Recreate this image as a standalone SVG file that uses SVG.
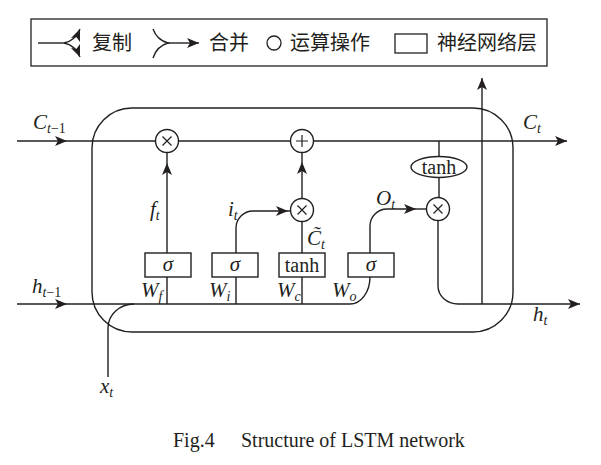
<svg xmlns="http://www.w3.org/2000/svg" width="601" height="465" viewBox="0 0 601 465">
<style>
.ln{fill:none;stroke:#231f20;stroke-width:1.4}
.nd{fill:#fff;stroke:#231f20;stroke-width:1.4}
.sym{stroke:#231f20;stroke-width:1.2;fill:none}
.m{font-family:"Liberation Serif",serif;font-style:italic;font-size:21px;fill:#231f20}
.sub{font-size:14px}
.up{font-family:"Liberation Serif",serif;font-size:20px;fill:#231f20}
.cjk{font-family:"Liberation Sans","Noto Sans CJK SC",sans-serif;font-size:20px;fill:#231f20}
</style>
<defs>
<marker id="ar" viewBox="0 0 12 10" refX="12" refY="5" markerWidth="12" markerHeight="10" markerUnits="userSpaceOnUse" orient="auto">
<path d="M0,0 L12,5 L0,10 L3,5 z" fill="#231f20"/>
</marker>
</defs>
<rect width="601" height="465" fill="#fff"/>

<g id="legend">
<rect x="31" y="19" width="516" height="47" fill="none" stroke="#231f20" stroke-width="1.3"/>
<path class="ln" d="M38,43 L64,43"/>
<path class="ln" d="M64,43 Q75,41 80,29" marker-end="url(#ar)"/>
<path class="ln" d="M64,43 Q75,45 80,57" marker-end="url(#ar)"/>
<text class="cjk" x="92" y="50">复制</text>
<path class="ln" d="M153,29 Q157,40 168,43 Q157,46 153,58"/>
<path class="ln" d="M168,43 L199,43" marker-end="url(#ar)"/>
<text class="cjk" x="209" y="50">合并</text>
<circle cx="274" cy="43" r="7" fill="none" stroke="#231f20" stroke-width="1.3"/>
<text class="cjk" x="290" y="50">运算操作</text>
<rect x="395" y="34" width="32" height="19" fill="none" stroke="#231f20" stroke-width="1.3"/>
<text class="cjk" x="437" y="50">神经网络层</text>
</g>

<g id="cell">
<rect x="92" y="108" width="421" height="224" rx="40" ry="40" class="ln"/>
</g>

<g id="connectors">
<path class="ln" d="M17,141 L67,141" marker-end="url(#ar)"/>
<path class="ln" d="M67,141 L567,141" marker-end="url(#ar)"/>
<path class="ln" d="M17,304 L67,304" marker-end="url(#ar)"/>
<path class="ln" d="M67,304 L350,304 A20,27 0 0 0 370,277"/>
<path class="ln" d="M108,377 L108,328 A26,24 0 0 1 134,304"/>
<path class="ln" d="M167,304 L167,277 M236,304 L236,277 M302,304 L302,277"/>
<path class="ln" d="M167,253 L167,163" marker-end="url(#ar)"/>
<path class="ln" d="M167,163 L167,152"/>
<path class="ln" d="M236,253 L236,228 A17,17 0 0 1 253,211 L288,211" marker-end="url(#ar)"/>
<path class="ln" d="M288,211 L292,211"/>
<path class="ln" d="M302,253 L302,221"/>
<path class="ln" d="M302,199 L302,162" marker-end="url(#ar)"/>
<path class="ln" d="M302,162 L302,152"/>
<path class="ln" d="M370,253 L370,226 A17,17 0 0 1 387,209 L416,209" marker-end="url(#ar)"/>
<path class="ln" d="M416,209 L427,209"/>
<path class="ln" d="M439,141 L439,197"/>
<path class="ln" d="M438,221 L438,286 A20,18 0 0 0 458,304 L580,304" marker-end="url(#ar)"/>
<path class="ln" d="M482,304 L482,78" marker-end="url(#ar)"/>
</g>

<g id="mul-f">
<circle class="nd" cx="167" cy="141" r="11.5"/>
<path class="sym" d="M162.5,136.5 L171.5,145.5 M171.5,136.5 L162.5,145.5"/>
</g>
<g id="add-c">
<circle class="nd" cx="302" cy="141" r="11.5"/>
<path class="sym" d="M296,141 L308,141 M302,135 L302,147"/>
</g>
<g id="mul-i">
<circle class="nd" cx="302" cy="210" r="11.5"/>
<path class="sym" d="M297.5,205.5 L306.5,214.5 M306.5,205.5 L297.5,214.5"/>
</g>
<g id="mul-o">
<circle class="nd" cx="438" cy="209" r="11.5"/>
<path class="sym" d="M433.5,204.5 L442.5,213.5 M442.5,204.5 L433.5,213.5"/>
</g>
<g id="tanh-c">
<ellipse class="nd" cx="439" cy="167" rx="28" ry="10.5"/>
<text class="up" x="439" y="173.5" text-anchor="middle">tanh</text>
</g>
<g id="sigma-f">
<rect class="nd" x="145" y="253" width="46" height="24"/>
<text class="m" x="168" y="271" text-anchor="middle">σ</text>
</g>
<g id="sigma-i">
<rect class="nd" x="212" y="253" width="46" height="24"/>
<text class="m" x="235" y="271" text-anchor="middle">σ</text>
</g>
<g id="tanh-g">
<rect class="nd" x="279" y="253" width="46" height="24"/>
<text class="up" x="302" y="272" text-anchor="middle" font-size="21">tanh</text>
</g>
<g id="sigma-o">
<rect class="nd" x="348" y="253" width="46" height="24"/>
<text class="m" x="371" y="271" text-anchor="middle">σ</text>
</g>

<g id="labels">
<text class="m" x="33" y="129">C<tspan class="sub" dy="4">t</tspan><tspan class="sub" font-style="normal">−1</tspan></text>
<text class="m" x="523" y="129">C<tspan class="sub" dy="4">t</tspan></text>
<text class="m" x="32" y="293">h<tspan class="sub" dy="4">t</tspan><tspan class="sub" font-style="normal">−1</tspan></text>
<text class="m" x="533" y="321">h<tspan class="sub" dy="4">t</tspan></text>
<text class="m" x="100" y="393">x<tspan class="sub" dy="4">t</tspan></text>
<text class="m" x="150" y="216">f<tspan class="sub" dy="4">t</tspan></text>
<text class="m" x="228" y="216">i<tspan class="sub" dy="4">t</tspan></text>
<text class="m" x="307" y="245">C&#x303;<tspan class="sub" dy="4">t</tspan></text>
<text class="m" x="376" y="205">O<tspan class="sub" dy="4">t</tspan></text>
<text class="m" x="141" y="297">W<tspan class="sub" dy="4">f</tspan></text>
<text class="m" x="209" y="297">W<tspan class="sub" dy="4">i</tspan></text>
<text class="m" x="277" y="297">W<tspan class="sub" dy="4">c</tspan></text>
<text class="m" x="332" y="297">W<tspan class="sub" dy="4">o</tspan></text>
</g>

<g id="caption">
<text class="up" x="173" y="447" font-size="20.5">Fig.4</text>
<text class="up" x="241" y="447" font-size="20.5">Structure of LSTM network</text>
</g>
</svg>
